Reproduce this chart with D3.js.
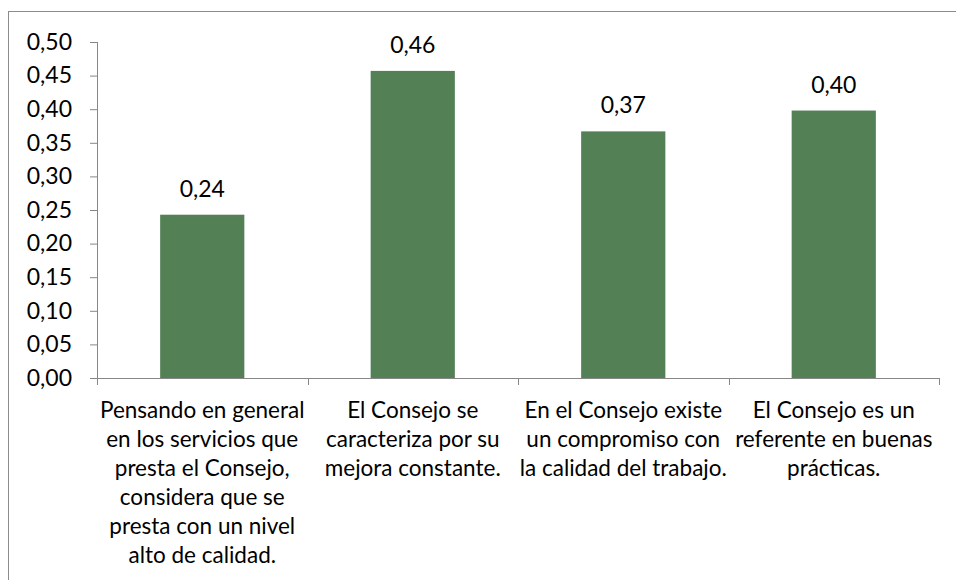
<!DOCTYPE html>
<html>
<head>
<meta charset="utf-8">
<script src="https://cdn.jsdelivr.net/npm/d3@7"></script>
<style>
  body { margin: 0; background: #fff; }
  svg text { font-family: Lato, "Open Sans", sans-serif; fill: #000; }
</style>
</head>
<body>
<div class="chart"></div>
<script>
const categories = [
    ["Pensando en general", "en los servicios que", "presta el Consejo,", "considera que se", "presta con un nivel", "alto de calidad."],
    ["El Consejo se", "caracteriza por su", "mejora constante."],
    ["En el Consejo existe", "un compromiso con", "la calidad del trabajo."],
    ["El Consejo es un", "referente en buenas", "prácticas."]
];
const values = [0.243, 0.457, 0.367, 0.398];
const yTicks = [0, 0.05, 0.10, 0.15, 0.20, 0.25, 0.30, 0.35, 0.40, 0.45, 0.50];

const margin = ({ left: 97, right: 17, top: 42, bottom: 202 });
const width = 956 - margin.left - margin.right,
    height = 580 - margin.top - margin.bottom;

const svg = d3.select(".chart").append("svg")
    .attr("width", 956)
    .attr("height", 580);

// outer frame (runs past the right and bottom edges)
svg.append("rect")
    .attr("x", 8.5)
    .attr("y", 11.5)
    .attr("width", 960)
    .attr("height", 600)
    .attr("fill", "none")
    .attr("stroke", "#8c8c8c")
    .attr("stroke-width", 1);

const g = svg.append("g")
    .attr("transform", "translate(" + margin.left + "," + margin.top + ")");

const fmt = d => d3.format(".2f")(d).replace(".", ",");

const xScale = d3.scaleBand()
    .domain(d3.range(values.length))
    .range([0, width])
    .paddingInner(0)
    .paddingOuter(0);

const yScale = d3.scaleLinear()
    .domain([0, 0.5])
    .range([height, 0]);

const yAxis = d3.axisLeft()
    .scale(yScale)
    .tickValues(yTicks)
    .tickSize(7)
    .tickPadding(18)
    .tickFormat(fmt);

g.append("g")
    .attr("class", "axis y-axis")
    .call(yAxis)
    .call(g => g.select(".domain").attr("stroke", "#878787").attr("d", `M0.5,0V${height}`))
    .call(g => g.selectAll(".tick line").attr("stroke", "#878787"))
    .call(g => g.selectAll(".tick text").attr("font-size", 23).attr("font-family", "Lato, sans-serif").attr("fill", "#000"));

// x axis line with ticks at band edges
const xg = g.append("g").attr("transform", `translate(0, ${height})`);
xg.append("line")
    .attr("x1", 0).attr("x2", width)
    .attr("y1", 0.5).attr("y2", 0.5)
    .attr("stroke", "#878787");
xg.selectAll(".edge")
    .data(d3.range(values.length + 1))
    .enter()
    .append("line")
    .attr("x1", d => Math.round(d * xScale.bandwidth()) + 0.5)
    .attr("x2", d => Math.round(d * xScale.bandwidth()) + 0.5)
    .attr("y1", 0).attr("y2", 7)
    .attr("stroke", "#878787");

const barW = xScale.bandwidth() * 0.4;

g.selectAll("rect.bar")
    .data(values)
    .enter()
    .append("rect")
    .attr("class", "bar")
    .attr("x", (d, i) => xScale(i) + (xScale.bandwidth() - barW) / 2)
    .attr("y", d => yScale(d))
    .attr("width", barW)
    .attr("height", d => height - yScale(d))
    .attr("fill", "#548056");

g.selectAll("text.val")
    .data(values)
    .enter()
    .append("text")
    .attr("class", "val")
    .attr("x", (d, i) => xScale(i) + xScale.bandwidth() / 2)
    .attr("y", d => yScale(d) - 18)
    .attr("text-anchor", "middle")
    .attr("font-size", 23)
    .text(fmt);

const labels = g.selectAll("text.cat")
    .data(categories)
    .enter()
    .append("text")
    .attr("class", "cat")
    .attr("text-anchor", "middle")
    .attr("font-size", 22.5)
    .attr("y", height + 40);

labels.selectAll("tspan")
    .data((d, i) => d.map(t => ({ t, i })))
    .enter()
    .append("tspan")
    .attr("x", d => xScale(d.i) + xScale.bandwidth() / 2)
    .attr("dy", (d, j) => j === 0 ? 0 : 29)
    .text(d => d.t);
</script>
</body>
</html>
